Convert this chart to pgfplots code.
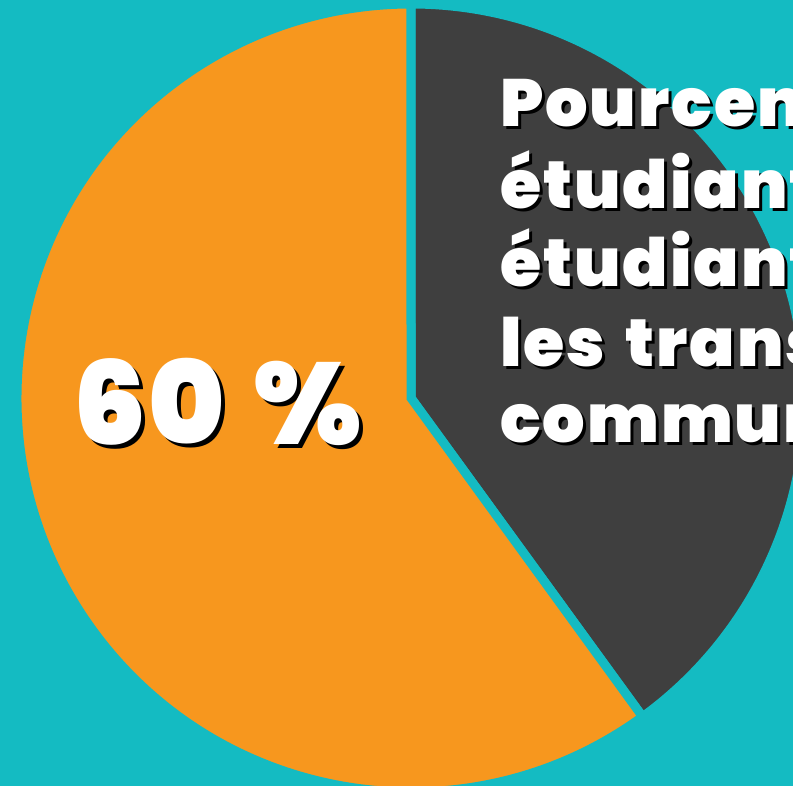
\documentclass[border=0pt]{standalone}
\usepackage{pgfplots}
\pgfplotsset{compat=1.18}
\usepackage{pgfplotstable}
\usepackage{fontspec}
\setmainfont{Poppins}[UprightFont={* Black}]
\newfontfamily\spaced{Poppins}[UprightFont={* Black}, LetterSpace=3, WordSpace=1.5]
\newfontfamily\bigspaced{Poppins}[UprightFont={* Black}, LetterSpace=2, WordSpace=1.3]
\definecolor{bgteal}{RGB}{20,187,194}
\definecolor{pieorange}{RGB}{247,151,30}
\definecolor{piedark}{RGB}{63,63,63}
\pgfplotstableread{
label value
Autres 60
Transport 40
}\piedata
\pgfplotstablegetelem{0}{value}\of\piedata
\let\valA\pgfplotsretval
\pgfplotstablegetelem{1}{value}\of\piedata
\let\valB\pgfplotsretval
\pgfmathsetmacro{\angB}{360*(\valB/(\valA+\valB))}
\pgfmathsetmacro{\endB}{90-\angB}
\pgfmathsetmacro{\endA}{\endB-360*(\valA/(\valA+\valB))}
\newcommand{\tline}[2]{%
  \node[anchor=base west, text=black, inner sep=0pt, font=\spaced\fontsize{67}{67}\selectfont] at (axis cs:503,#2-3) {#1};
  \node[anchor=base west, text=white, inner sep=0pt, font=\spaced\fontsize{67}{67}\selectfont] at (axis cs:500,#2) {#1};
}
\begin{document}
\begin{tikzpicture}
\fill[bgteal] (0,0) rectangle (793bp,786bp);
\begin{axis}[at={(0,0)}, anchor=south west, scale only axis, width=793bp, height=786bp,
  xmin=0, xmax=793, ymin=0, ymax=786, hide axis, clip=true]
\fill[piedark, draw=bgteal, line width=9bp, line join=miter]
  (axis cs:411,388) -- ++(90:394bp) arc[start angle=90, end angle=\endB, radius=394bp] -- cycle;
\fill[pieorange, draw=bgteal, line width=9bp, line join=miter]
  (axis cs:411,388) -- ++(\endB:394bp) arc[start angle=\endB, end angle=\endA, radius=394bp] -- cycle;
% big label
\node[anchor=base west, text=black, inner sep=0pt, font=\bigspaced\fontsize{116}{116}\selectfont] at (axis cs:77,337) {60 \%};
\node[anchor=base west, text=white, inner sep=0pt, font=\bigspaced\fontsize{116}{116}\selectfont] at (axis cs:73,341) {60 \%};
% title lines
\tline{Pourcentage d'}{659}
\tline{étudiants}{577}
\tline{étudiants utilisant}{499}
\tline{les transports en}{419}
\tline{commun}{343}
\end{axis}
\end{tikzpicture}
\end{document}
